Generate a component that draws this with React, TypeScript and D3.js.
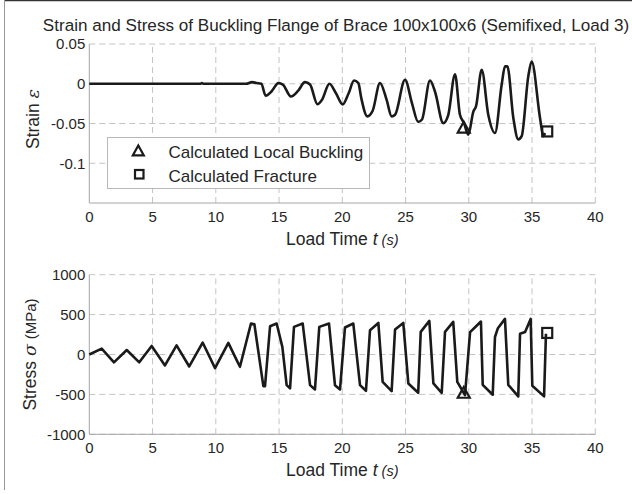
import React from "react";
import * as d3 from "d3";

const title = "Strain and Stress of Buckling Flange of Brace 100x100x6 (Semifixed, Load 3)";
const xTicks = [0, 5, 10, 15, 20, 25, 30, 35, 40];
const strainTicks = [0.05, 0, -0.05, -0.1];
const strainTickLabels = ["0.05", "0", "-0.05", "-0.1"];
const stressTicks = [1000, 500, 0, -500, -1000];
const stressTickLabels = ["1000", "500", "0", "-500", "-1000"];
const legendLabels = ["Calculated Local Buckling", "Calculated Fracture"];

const strainT = [0, 8.8, 8.9, 9.0, 12.4, 12.86, 13.2, 13.6, 13.94, 14.4, 14.95, 15.3, 15.94, 16.5, 17.05, 17.45, 18.03, 18.4, 18.98, 19.5, 20.03, 20.5, 20.93, 21.27, 21.5, 21.98, 22.4, 22.98, 23.5, 23.9, 24.17, 24.96, 25.5, 26.0, 26.3, 26.93, 27.33, 27.98, 28.38, 28.91, 29.3, 29.62, 29.96, 30.36, 30.57, 31.02, 31.54, 32.07, 32.6, 32.86, 33.05, 33.52, 33.91, 34.18, 34.7, 34.97, 35.63, 35.89, 36.02];
const strainV = [0, 0, 0.001, 0, 0, 0.002, 0.001, 0, -0.015, -0.0097, 0.0008, -0.001, -0.016, -0.009, 0.002, -0.001, -0.0256, -0.02, 0.0, -0.012, -0.026, -0.012, 0.004, 0.0008, -0.018, -0.041, -0.034, 0.001, -0.02, -0.041, -0.039, 0.005, -0.024, -0.048, -0.045, 0.004, -0.01, -0.0495, -0.039, 0.012, -0.039, -0.0495, -0.064, -0.035, -0.0285, 0.0176, -0.039, -0.062, -0.001, 0.0218, 0.0218, -0.043, -0.07, -0.066, 0.009, 0.028, -0.043, -0.066, -0.062];

const stressT = [0, 0.98, 1.95, 2.96, 3.95, 4.93, 5.98, 6.9, 7.9, 8.96, 9.94, 10.99, 11.65, 11.91, 12.78, 13.05, 13.76, 13.89, 14.29, 14.81, 15.26, 15.6, 15.87, 16.18, 16.87, 17.45, 17.84, 18.18, 18.95, 19.42, 19.82, 20.21, 20.87, 21.4, 21.87, 22.19, 22.85, 23.19, 23.9, 24.17, 24.82, 25.22, 26.0, 26.2, 26.88, 27.2, 27.86, 28.12, 28.77, 29.09, 29.7, 30.1, 30.62, 30.96, 31.1, 31.89, 32.07, 32.3, 32.86, 33.12, 33.91, 34.05, 34.45, 34.89, 35.02, 35.95, 36.1];
const stressV = [0, 73, -98, 56, -98, 107, -137, 115, -150, 150, -171, 146, -71, -154, 388, 379, -396, -396, 354, 388, 96, -384, -425, 346, 388, -384, -438, 346, 388, -384, -438, 338, 388, -384, -455, 304, 396, -342, -459, 313, 396, -363, -480, 284, 421, -363, -480, 284, 409, -342, -509, 280, 360, 413, -380, -504, 219, 330, 446, -380, -525, 260, 281, 446, -392, -525, 260];

const bucklingT = [29.6];
const bucklingStrain = [-0.056];
const bucklingStress = [-488];
const fractureT = [36.2];
const fractureStrain = [-0.06];
const fractureStress = [270];

const W = 632;
const H = 494;
const FONT = "'Liberation Sans', Arial, Helvetica, sans-serif";
const TXT = "#262626";
const GRID = "#c4c4c4";
const AXIS = "#a6a6a6";

const x = d3.scaleLinear().domain([0, 40]).range([89.3, 595.3]);
const yStrain = d3.scaleLinear().domain([-0.15, 0.05]).range([203, 44]);
const yStress = d3.scaleLinear().domain([-1000, 1000]).range([434.3, 274.7]);

function tri(cx: number, cy: number, s: number) {
  const h = s * 0.9;
  return `M${cx},${cy - h * 0.6}L${cx + s / 2},${cy + h * 0.4}L${cx - s / 2},${cy + h * 0.4}Z`;
}

function Panel(props: {
  y: d3.ScaleLinear<number, number>;
  yTicks: number[];
  yTickLabels: string[];
  t: number[];
  v: number[];
  bT: number;
  bV: number;
  fT: number;
  fV: number;
  smooth: boolean;
}) {
  const { y, yTicks, yTickLabels, t, v, bT, bV, fT, fV, smooth } = props;
  const [y0, y1] = y.range();
  const line = d3
    .line<number>()
    .x((_, i) => x(t[i]))
    .y((d) => y(d))
    .curve(smooth ? d3.curveMonotoneX : d3.curveLinear);
  return (
    <g>
      {xTicks.slice(1).map((tk) => (
        <line key={"vx" + tk} x1={x(tk)} x2={x(tk)} y1={y0} y2={y1} stroke={GRID} strokeWidth={1} strokeDasharray="6,4" />
      ))}
      {yTicks.map((tk) => (
        <line key={"hy" + tk} x1={x(0)} x2={x(40)} y1={y(tk)} y2={y(tk)} stroke={GRID} strokeWidth={1} strokeDasharray="6,4" />
      ))}
      <line x1={x(0)} x2={x(40)} y1={y0} y2={y0} stroke={AXIS} strokeWidth={1} />
      <line x1={x(0)} x2={x(0)} y1={y0} y2={y1} stroke={AXIS} strokeWidth={1} />
      {xTicks.map((tk) => (
        <text key={"xl" + tk} x={x(tk)} y={y0 + 18.8} textAnchor="middle" fontSize={15} fill={TXT} fontFamily={FONT}>
          {tk}
        </text>
      ))}
      {yTicks.map((tk, i) => (
        <text key={"yl" + tk} x={x(0) - 4} y={y(tk) + 5.3} textAnchor="end" fontSize={15} fill={TXT} fontFamily={FONT}>
          {yTickLabels[i]}
        </text>
      ))}
      <path d={line(v) || ""} fill="none" stroke="#1a1a1a" strokeWidth={2.6} strokeLinejoin="round" />
      <path d={tri(x(bT), y(bV), 12)} fill="none" stroke="#1a1a1a" strokeWidth={2.2} />
      <rect x={x(fT) - 5} y={y(fV) - 5} width={10} height={10} fill="none" stroke="#1a1a1a" strokeWidth={2.2} />
      <text x={x(20)} y={y0 + 42} textAnchor="middle" fontSize={17.5} fill={TXT} fontFamily={FONT}>
        Load Time{"  "}
        <tspan fontStyle="italic">t</tspan>
        <tspan fontStyle="italic" fontSize={14.5} dx={4}>(s)</tspan>
      </text>
    </g>
  );
}

export default function App() {
  return (
    <svg width={W} height={H} style={{ position: "absolute", left: 0, top: 0, background: "#fff" }}>
      <rect x={0} y={0} width={W} height={H} fill="#fff" />
      <line x1={4} x2={W} y1={0.5} y2={0.5} stroke="#333" strokeWidth={1.5} />
      <line x1={4.5} x2={4.5} y1={0} y2={490} stroke="#999" strokeWidth={1} />
      <text x={336} y={31} textAnchor="middle" fontSize={17.1} fill={TXT} fontFamily={FONT}>
        {title}
      </text>
      <Panel y={yStrain} yTicks={strainTicks} yTickLabels={strainTickLabels} t={strainT} v={strainV}
        bT={bucklingT[0]} bV={bucklingStrain[0]} fT={fractureT[0]} fV={fractureStrain[0]} smooth={true} />
      <Panel y={yStress} yTicks={stressTicks} yTickLabels={stressTickLabels} t={stressT} v={stressV}
        bT={bucklingT[0]} bV={bucklingStress[0]} fT={fractureT[0]} fV={fractureStress[0]} smooth={false} />
      <text transform={`translate(38.5,119) rotate(-90)`} textAnchor="middle" fontSize={17.5} fill={TXT} fontFamily={FONT}>
        Strain{"  "}<tspan fontStyle="italic" fontFamily="'DejaVu Serif', serif">ε</tspan>
      </text>
      <text transform={`translate(35.5,${(274.7 + 434.3) / 2}) rotate(-90)`} textAnchor="middle" fontSize={17.5} fill={TXT} fontFamily={FONT}>
        Stress{"  "}<tspan fontStyle="italic" fontFamily="'DejaVu Serif', serif">σ</tspan>{"  "}
        <tspan fontSize={15}>(MPa)</tspan>
      </text>
      <g>
        <rect x={107.5} y={137.5} width={262} height={51} fill="#fff" stroke="#b8b8b8" strokeWidth={1} />
        <path d={tri(138.3, 151.5, 11)} fill="none" stroke="#1a1a1a" strokeWidth={2.2} />
        <rect x={135} y={170} width={8.5} height={8.5} fill="none" stroke="#1a1a1a" strokeWidth={2.2} />
        <text x={168.5} y={157.7} fontSize={17} fill={TXT} fontFamily={FONT}>{legendLabels[0]}</text>
        <text x={168.5} y={181.7} fontSize={17} fill={TXT} fontFamily={FONT}>{legendLabels[1]}</text>
      </g>
    </svg>
  );
}
